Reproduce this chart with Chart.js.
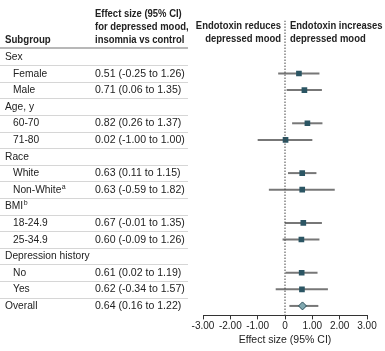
<!DOCTYPE html>
<html>
<head>
<meta charset="utf-8">
<script src="https://cdn.jsdelivr.net/npm/chart.js@4"></script>
<style>
  html, body { margin: 0; padding: 0; background: #fff; }
</style>
</head>
<body>
<canvas id="forestChart" width="385" height="351"></canvas>
<script>
// rows of the table, top to bottom
var subgroups = ["Sex", "Female", "Male", "Age, y", "60-70", "71-80", "Race", "White", "Non-White", "BMI", "18-24.9", "25-34.9", "Depression history", "No", "Yes", "Overall"];
var indented = [0, 1, 1, 0, 1, 1, 0, 1, 1, 0, 1, 1, 0, 1, 1, 0];
var footnotes = ["", "", "", "", "", "", "", "", "a", "b", "", "", "", "", "", ""];
var effect = [null, 0.51, 0.71, null, 0.82, 0.02, null, 0.63, 0.63, null, 0.67, 0.60, null, 0.61, 0.62, 0.64];
var lower = [null, -0.25, 0.06, null, 0.26, -1.00, null, 0.11, -0.59, null, -0.01, -0.09, null, 0.02, -0.34, 0.16];
var upper = [null, 1.26, 1.35, null, 1.37, 1.00, null, 1.15, 1.82, null, 1.35, 1.26, null, 1.19, 1.57, 1.22];
var xTicks = [-3, -2, -1, 0, 1, 2, 3];

var FONT = "Liberation Sans, Arial, sans-serif";
var TXT = "#222";

function fmt(v) {
    return (v < 0 ? "-" : "") + Math.abs(v).toFixed(2);
}

// reference typeface is condensed, so squeeze the text a bit
function squeezeText(ctx, text, x, y, sx) {
    var w = ctx.measureText(text).width;
    ctx.fillText(text, x, y, w * sx);
    return w * sx;
}

var squarePts = [], overallPts = [];
for (var i = 0; i < subgroups.length; i++) {
    if (effect[i] === null) continue;
    if (subgroups[i] === "Overall") overallPts.push({x: effect[i], y: i});
    else squarePts.push({x: effect[i], y: i});
}

var forestPlugin = {
    id: "forest",
    beforeDatasetsDraw: function (chart) {
        var ctx = chart.ctx, xs = chart.scales.x, ys = chart.scales.y;
        ctx.save();
        ctx.strokeStyle = "#777";
        ctx.lineWidth = 2;
        for (var i = 0; i < subgroups.length; i++) {
            if (effect[i] === null) continue;
            var y = ys.getPixelForValue(i);
            ctx.beginPath();
            ctx.moveTo(xs.getPixelForValue(lower[i]), y);
            ctx.lineTo(xs.getPixelForValue(upper[i]), y);
            ctx.stroke();
        }
        ctx.restore();
    },
    afterDraw: function (chart) {
        var ctx = chart.ctx, ys = chart.scales.y;
        ctx.save();
        ctx.fillStyle = TXT;
        ctx.textBaseline = "middle";

        // headers
        ctx.font = "bold 11px " + FONT;
        ctx.textAlign = "left";
        squeezeText(ctx, "Subgroup", 5, 40, 0.88);
        squeezeText(ctx, "Effect size (95% CI)", 95, 14, 0.86);
        squeezeText(ctx, "for depressed mood,", 95, 27, 0.86);
        squeezeText(ctx, "insomnia vs control", 95, 40, 0.86);
        ctx.textAlign = "right";
        squeezeText(ctx, "Endotoxin reduces", 281, 26, 0.86);
        squeezeText(ctx, "depressed mood", 281, 39, 0.86);
        ctx.textAlign = "left";
        squeezeText(ctx, "Endotoxin increases", 290, 26, 0.86);
        squeezeText(ctx, "depressed mood", 290, 39, 0.86);

        // header rule
        ctx.strokeStyle = "#a0a0a0";
        ctx.lineWidth = 1.5;
        ctx.beginPath();
        ctx.moveTo(0, 48);
        ctx.lineTo(188, 48);
        ctx.stroke();

        // row separators
        ctx.strokeStyle = "#d6d6d6";
        ctx.lineWidth = 1;
        for (var i = 0; i < subgroups.length - 1; i++) {
            var yy = Math.round((ys.getPixelForValue(i) + ys.getPixelForValue(i + 1)) / 2) + 0.5;
            ctx.beginPath();
            ctx.moveTo(0, yy);
            ctx.lineTo(188, yy);
            ctx.stroke();
        }

        // row text
        for (var j = 0; j < subgroups.length; j++) {
            var y = ys.getPixelForValue(j);
            var x = indented[j] ? 13 : 5;
            ctx.font = "11px " + FONT;
            var w = squeezeText(ctx, subgroups[j], x, y, 0.93);
            if (footnotes[j]) {
                ctx.font = "7px " + FONT;
                ctx.fillText(footnotes[j], x + w + 0.5, y - 3);
                ctx.font = "11px " + FONT;
            }
            if (effect[j] !== null) {
                squeezeText(ctx, effect[j].toFixed(2) + " (" + fmt(lower[j]) + " to " + fmt(upper[j]) + ")", 95, y, 0.96);
            }
        }
        ctx.restore();
    }
};

var yMin = -2.19, yMax = 15.57;

var ctx = document.getElementById("forestChart").getContext("2d");
new Chart(ctx, {
    type: "scatter",
    data: {
        datasets: [
            {
                type: "line",
                data: [{x: 0, y: yMin}, {x: 0, y: yMax}],
                borderColor: "#444",
                borderWidth: 1,
                borderDash: [1.5, 1.5],
                pointRadius: 0
            },
            {
                data: squarePts,
                pointStyle: "rect",
                pointRadius: 4,
                backgroundColor: "#2b5563",
                borderColor: "#2b5563",
                borderWidth: 0
            },
            {
                data: overallPts,
                pointStyle: "rectRot",
                pointRadius: 4,
                backgroundColor: "#80a8b0",
                borderColor: "#2b4f5a",
                borderWidth: 1
            }
        ]
    },
    options: {
        responsive: false,
        animation: false,
        events: [],
        layout: {padding: {left: 203, right: 18, top: 20.5, bottom: 5}},
        plugins: {legend: {display: false}, tooltip: {enabled: false}},
        scales: {
            x: {
                type: "linear",
                min: -3,
                max: 3,
                afterBuildTicks: function (axis) {
                    axis.ticks = xTicks.map(function (v) { return {value: v}; });
                },
                ticks: {
                    padding: 1,
                    autoSkip: false,
                    maxRotation: 0,
                    color: TXT,
                    font: {family: FONT, size: 10},
                    callback: function (v) { return v === 0 ? "0" : v.toFixed(2); }
                },
                grid: {drawOnChartArea: false, drawTicks: true, tickLength: 4, color: "#333"},
                border: {display: true, color: "#333", width: 1},
                title: {
                    display: true,
                    text: "Effect size (95% CI)",
                    color: TXT,
                    font: {family: FONT, size: 10.5},
                    padding: {top: 0, bottom: 0}
                }
            },
            y: {
                type: "linear",
                display: false,
                reverse: true,
                min: yMin,
                max: yMax
            }
        }
    },
    plugins: [forestPlugin]
});
</script>
</body>
</html>
